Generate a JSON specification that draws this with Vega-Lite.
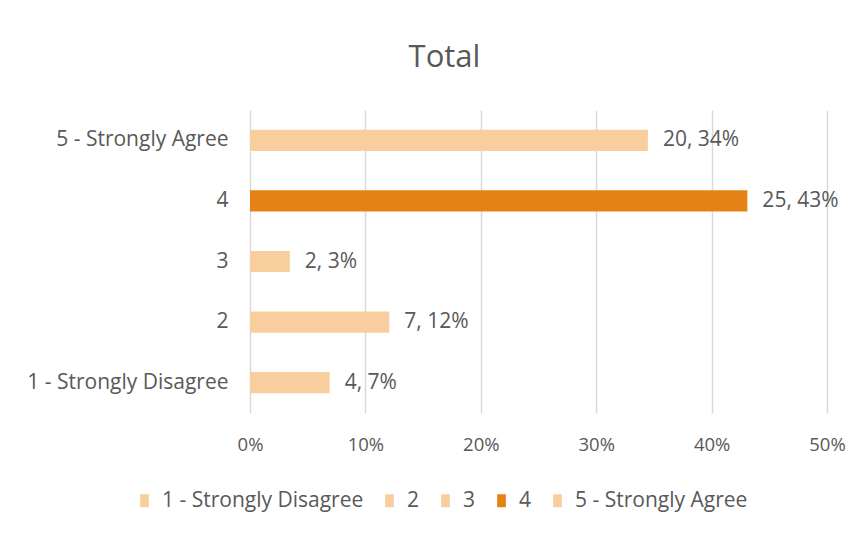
{
  "$schema": "https://vega.github.io/schema/vega-lite/v6.json",
  "width": 577,
  "height": 303,
  "autosize": {"type": "none"},
  "padding": {"left": 250, "top": 110, "right": 41, "bottom": 120},
  "background": "white",
  "title": {
    "text": "Total",
    "fontSize": 31,
    "font": "Open Sans",
    "fontWeight": "normal",
    "color": "#595959",
    "anchor": "middle",
    "dx": -94,
    "offset": 36
  },
  "config": {
    "view": {"stroke": null},
    "font": "Open Sans"
  },
  "data": {
    "values": [
      {"rating": "5 - Strongly Agree", "count": 20, "pct": 0.3448, "label": "20, 34%"},
      {"rating": "4", "count": 25, "pct": 0.4310, "label": "25, 43%"},
      {"rating": "3", "count": 2, "pct": 0.0345, "label": "2, 3%"},
      {"rating": "2", "count": 7, "pct": 0.1207, "label": "7, 12%"},
      {"rating": "1 - Strongly Disagree", "count": 4, "pct": 0.0690, "label": "4, 7%"}
    ]
  },
  "encoding": {
    "y": {
      "field": "rating",
      "type": "nominal",
      "sort": ["5 - Strongly Agree", "4", "3", "2", "1 - Strongly Disagree"],
      "scale": {"paddingInner": 0.65, "paddingOuter": 0.325},
      "axis": {
        "title": null,
        "domain": false,
        "ticks": false,
        "labelPadding": 22,
        "labelFontSize": 21,
        "labelLimit": 0,
        "labelColor": "#595959",
        "labelFont": "Open Sans"
      }
    },
    "x": {
      "field": "pct",
      "type": "quantitative",
      "scale": {"domain": [0, 0.5], "nice": false},
      "axis": {
        "title": null,
        "format": ".0%",
        "values": [0, 0.1, 0.2, 0.3, 0.4, 0.5],
        "domain": false,
        "ticks": false,
        "grid": true,
        "gridColor": "#d9d9d9",
        "gridWidth": 1.5,
        "labelFlush": false,
        "labelPadding": 22,
        "labelFontSize": 18.5,
        "labelColor": "#595959",
        "labelFont": "Open Sans"
      }
    }
  },
  "layer": [
    {
      "mark": {"type": "bar"},
      "encoding": {
        "color": {
          "field": "rating",
          "type": "nominal",
          "scale": {
            "domain": ["1 - Strongly Disagree", "2", "3", "4", "5 - Strongly Agree"],
            "range": ["#F8CE9E", "#F8CE9E", "#F8CE9E", "#E58215", "#F8CE9E"]
          },
          "legend": {
            "title": null,
            "orient": "none",
            "direction": "horizontal",
            "legendX": -116,
            "legendY": 380,
            "symbolType": "M-0.67,-1H0.67V1H-0.67Z",
            "symbolSize": 169,
            "symbolStrokeWidth": 0,
            "labelFontSize": 21,
            "labelLimit": 0,
            "labelColor": "#595959",
            "labelFont": "Open Sans",
            "columnPadding": 15,
            "labelOffset": 7
          }
        }
      }
    },
    {
      "mark": {"type": "text", "align": "left", "baseline": "middle", "dx": 15, "fontSize": 21, "color": "#595959", "font": "Open Sans"},
      "encoding": {
        "text": {"field": "label"}
      }
    }
  ]
}
